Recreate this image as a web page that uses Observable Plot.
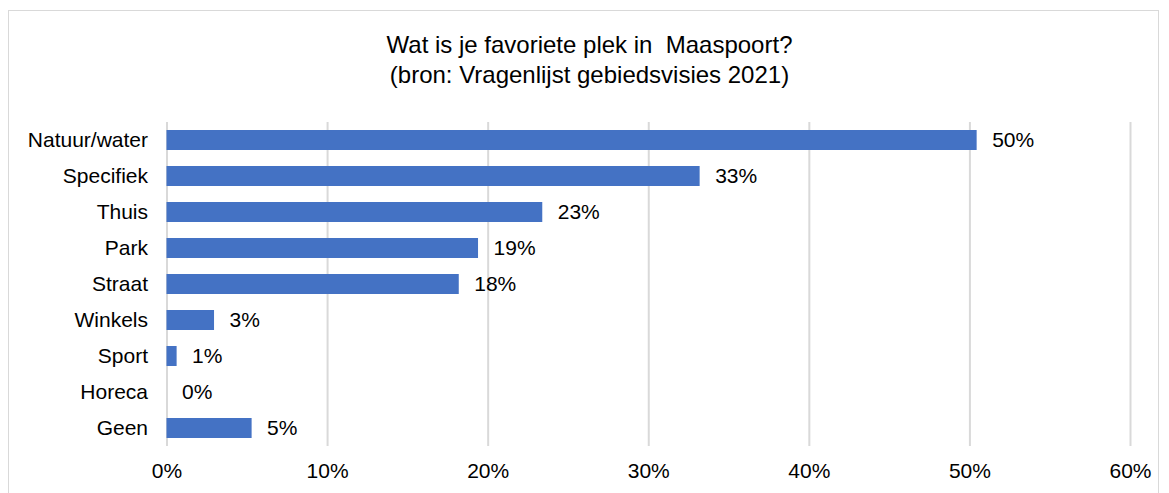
<!DOCTYPE html>
<html>
<head>
<meta charset="utf-8">
<script src="https://cdn.jsdelivr.net/npm/d3@7"></script>
<script src="https://cdn.jsdelivr.net/npm/@observablehq/plot@0.6"></script>
<style>
  html, body { margin: 0; padding: 0; background: #fff; overflow: hidden; }
  body { width: 1169px; height: 493px; position: relative; font-family: "Liberation Sans", Arial, sans-serif; }
  #frame { position: absolute; left: 8px; top: 10px; width: 1151px; height: 520px; border: 1px solid #d9d9d9; box-sizing: border-box; pointer-events: none; }
  #title { position: absolute; left: 0; top: 30px; width: 1169px; padding-left: 10px; box-sizing: border-box; text-align: center; font-size: 24px; line-height: 30px; color: #000; }
  #chart { position: absolute; left: 0; top: 100px; }
</style>
</head>
<body>
<div id="frame"></div>
<div id="title">Wat is je favoriete plek in&nbsp; Maaspoort?<br>(bron: Vragenlijst gebiedsvisies 2021)</div>
<div id="chart"></div>
<script>
const categories = ["Natuur/water", "Specifiek", "Thuis", "Park", "Straat", "Winkels", "Sport", "Horeca", "Geen"];
const values = [50.45, 33.2, 23.4, 19.4, 18.2, 2.96, 0.63, 0, 5.3];
const xTicks = [0, 10, 20, 30, 40, 50, 60];

const data = categories.map((c, i) => ({category: c, value: values[i], label: Math.round(values[i]) + "%"}));

const chart = Plot.plot({
  width: 1169,
  height: 393,
  marginLeft: 166.5,
  marginRight: 39,
  marginTop: 22,
  marginBottom: 47,
  style: {fontFamily: "'Liberation Sans', Arial, sans-serif", fontSize: "21px", color: "#000", background: "transparent"},
  x: {domain: [0, 60], ticks: xTicks, tickFormat: d => d + "%", tickSize: 0, tickPadding: 17, label: null},
  y: {domain: categories, paddingInner: 0.444, paddingOuter: 0.222, tickSize: 0, tickPadding: 19, label: null},
  marks: [
    Plot.ruleX(xTicks, {stroke: "#d9d9d9", strokeWidth: 2}),
    Plot.barX(data, {x: "value", y: "category", fill: "#4472c4"}),
    Plot.text(data, {x: "value", y: "category", text: "label", dx: 15, textAnchor: "start", fontSize: 21, fill: "#000"}),
    Plot.axisX({ticks: xTicks, tickFormat: d => d + "%", tickSize: 0, tickPadding: 17, fontSize: 21}),
    Plot.axisY({tickSize: 0, tickPadding: 19, fontSize: 21})
  ]
});
document.getElementById("chart").appendChild(chart);
</script>
</body>
</html>
